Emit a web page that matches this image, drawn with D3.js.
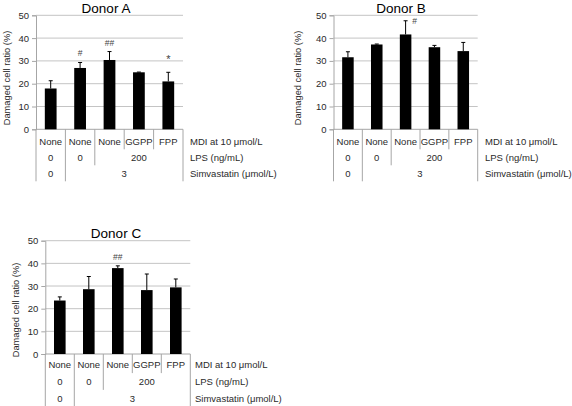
<!DOCTYPE html>
<html>
<head>
<meta charset="utf-8">
<script src="https://cdnjs.cloudflare.com/ajax/libs/d3/7.8.5/d3.min.js"></script>
<style>
  html, body { margin: 0; padding: 0; background: #fff; }
  svg { display: block; font-family: "Liberation Sans", Arial, sans-serif; }
</style>
</head>
<body>
<svg id="chart" width="572" height="406"></svg>
<script>
// ---------------- DATA ----------------
const categories = ["None", "None", "None", "GGPP", "FPP"];
const yTicks = [0, 10, 20, 30, 40, 50];
const rowLabels = ["MDI at 10 \u03bcmol/L", "LPS (ng/mL)", "Simvastatin (\u03bcmol/L)"];
const lpsGroups = ["0", "0", "200"];
const lpsSpans = [1, 1, 3];
const simGroups = ["0", "3"];
const simSpans = [1, 4];
const yTitle = "Damaged cell ratio (%)";

const donorNames = ["Donor A", "Donor B", "Donor C"];
const meansA = [17.9, 26.9, 30.4, 25.0, 21.0];
const errA   = [3.4, 2.4, 3.7, 0.1, 4.0];
const marksA = ["", "#", "##", "", "*"];
const meansB = [31.6, 37.2, 41.6, 36.0, 34.3];
const errB   = [2.4, 0.2, 6.0, 0.8, 3.8];
const marksB = ["", "", "#", "", ""];
const meansC = [23.6, 28.6, 37.9, 28.2, 29.4];
const errC   = [1.6, 5.6, 1.0, 7.1, 3.7];
const marksC = ["", "", "##", "", ""];

// ---------------- LAYOUT ----------------
const panels = [
  { name: donorNames[0], means: meansA, errs: errA, marks: marksA,
    x0: 36, x1: 183, yT: 15.3, yB: 129.3, row1: 12, rowStep: 16, labelX: 190,
    titleX: 106, titleY: 13, yTitleX: 7, yTitleC: 78, markDx: 0 },
  { name: donorNames[1], means: meansB, errs: errB, marks: marksB,
    x0: 333.5, x1: 477.7, yT: 15.3, yB: 129.3, row1: 12, rowStep: 16, labelX: 485,
    titleX: 401, titleY: 13, yTitleX: 298, yTitleC: 78, markDx: 9 },
  { name: donorNames[2], means: meansC, errs: errC, marks: marksC,
    x0: 45.3, x1: 190.3, yT: 240.7, yB: 354, row1: 10.7, rowStep: 16.8, labelX: 195,
    titleX: 116, titleY: 237.5, yTitleX: 15.5, yTitleC: 310, markDx: 0 }
];

const svg = d3.select("#chart");
svg.append("rect").attr("width", 572).attr("height", 406).attr("fill", "#fff");

const gridColor = "#c4c4c4";
const axisColor = "#a6a6a6";
const textColor = "#2a2a2a";

panels.forEach(p => {
  const g = svg.append("g");
  const x = d3.scaleBand().domain(d3.range(categories.length))
    .range([p.x0, p.x1]).paddingInner(0.6).paddingOuter(0.3);
  const step = x.step();
  const y = d3.scaleLinear().domain([0, 50]).range([p.yB, p.yT]);

  // gridlines
  g.selectAll("line.grid").data(yTicks.filter(t => t > 0)).join("line")
    .attr("x1", p.x0).attr("x2", p.x1)
    .attr("y1", d => y(d)).attr("y2", d => y(d))
    .attr("stroke", gridColor).attr("stroke-width", 1);

  // y axis
  const yAxis = d3.axisLeft(y).tickValues(yTicks).tickSize(4).tickPadding(3);
  const ya = g.append("g").attr("transform", `translate(${p.x0},0)`).call(yAxis);
  ya.select(".domain").attr("stroke", axisColor);
  ya.selectAll(".tick line").attr("stroke", axisColor);
  ya.selectAll(".tick text").attr("fill", textColor)
    .attr("font-size", "9.5px").attr("font-family", "'Liberation Sans', Arial, sans-serif");

  // x baseline
  g.append("line").attr("x1", p.x0).attr("x2", p.x1)
    .attr("y1", y(0)).attr("y2", y(0)).attr("stroke", axisColor);

  // bars
  g.selectAll("rect.bar").data(p.means).join("rect")
    .attr("x", (d, i) => x(i)).attr("width", x.bandwidth())
    .attr("y", d => y(d)).attr("height", d => y(0) - y(d))
    .attr("fill", "#000");

  // error bars (upper only)
  const eb = g.selectAll("g.err").data(p.means).join("g");
  eb.append("line")
    .attr("x1", (d, i) => x(i) + x.bandwidth() / 2).attr("x2", (d, i) => x(i) + x.bandwidth() / 2)
    .attr("y1", d => y(d)).attr("y2", (d, i) => y(d + p.errs[i]))
    .attr("stroke", "#000").attr("stroke-width", 1);
  eb.append("line")
    .attr("x1", (d, i) => x(i) + x.bandwidth() / 2 - 2).attr("x2", (d, i) => x(i) + x.bandwidth() / 2 + 2)
    .attr("y1", (d, i) => y(d + p.errs[i])).attr("y2", (d, i) => y(d + p.errs[i]))
    .attr("stroke", "#000").attr("stroke-width", 1);

  // significance marks
  g.selectAll("text.mark").data(p.marks).join("text")
    .attr("x", (d, i) => x(i) + x.bandwidth() / 2 + p.markDx)
    .attr("y", (d, i) => y(p.means[i] + p.errs[i]) - (p.markDx ? -3 : (d === "*" ? 9 : 6)))
    .attr("text-anchor", "middle").attr("font-size", d => d === "*" ? "11px" : "8.5px").attr("fill", "#444")
    .text(d => d);

  // title
  g.append("text").attr("x", p.titleX).attr("y", p.titleY)
    .attr("text-anchor", "middle").attr("font-size", "13.5px").attr("fill", "#000")
    .text(p.name);

  // y title
  g.append("text")
    .attr("transform", `translate(${p.yTitleX},${p.yTitleC}) rotate(-90)`)
    .attr("text-anchor", "middle").attr("dy", "0.35em")
    .attr("font-size", "9.3px").attr("fill", textColor)
    .text(yTitle);

  // table rows
  const rowC = k => p.yB + p.row1 + k * p.rowStep;
  const rowBottom = k => rowC(k) + p.rowStep / 2;

  // row 1: categories
  g.selectAll("text.cat").data(categories).join("text")
    .attr("x", (d, i) => x(i) + x.bandwidth() / 2).attr("y", rowC(0)).attr("dy", "0.35em")
    .attr("text-anchor", "middle").attr("font-size", "9.5px").attr("fill", textColor)
    .text(d => d);

  // grouped rows
  function groupRow(labels, spans, k) {
    let start = 0;
    const items = labels.map((l, j) => {
      const it = { label: l, start: start, end: start + spans[j] };
      start += spans[j];
      return it;
    });
    g.selectAll("text.row" + k).data(items).join("text")
      .attr("x", d => p.x0 + (d.start + d.end) / 2 * step)
      .attr("y", rowC(k)).attr("dy", "0.35em")
      .attr("text-anchor", "middle").attr("font-size", "9.5px").attr("fill", textColor)
      .text(d => d.label);
    return items;
  }
  const lpsItems = groupRow(lpsGroups, lpsSpans, 1);
  const simItems = groupRow(simGroups, simSpans, 2);

  // separator lines
  const nb = categories.length;
  for (let b = 0; b <= nb; b++) {
    let depth = 0;
    if (b === 0 || b === nb) depth = 2;
    else {
      if (lpsItems.some(it => it.start === b)) depth = 1;
      if (simItems.some(it => it.start === b)) depth = 2;
    }
    g.append("line")
      .attr("x1", p.x0 + b * step).attr("x2", p.x0 + b * step)
      .attr("y1", y(0)).attr("y2", rowBottom(depth))
      .attr("stroke", axisColor).attr("stroke-width", 1);
  }

  // row labels
  g.selectAll("text.rl").data(rowLabels).join("text")
    .attr("x", p.labelX).attr("y", (d, k) => rowC(k)).attr("dy", "0.35em")
    .attr("font-size", "9.5px").attr("fill", textColor)
    .text(d => d);
});
</script>
</body>
</html>
